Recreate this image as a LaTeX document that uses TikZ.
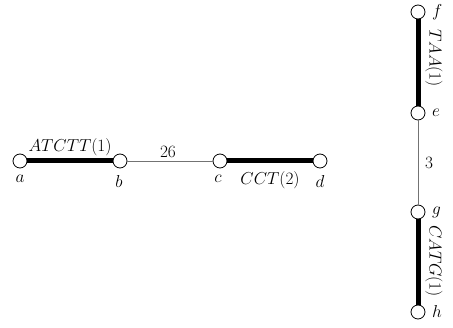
\documentclass[tikz,border=0pt]{standalone}
\begin{document}
\begin{tikzpicture}[x=1pt,y=-1pt,
  every node/.style={font=\fontsize{16}{19}\selectfont},
  vert/.style={circle,draw,thick,fill=white,minimum size=14pt,inner sep=0pt},
  heavy/.style={line width=5pt},
  light/.style={line width=0.8pt,draw=black!55},
  lbl/.style={inner sep=0pt}]
\useasboundingbox (0,0) rectangle (453,328);
% horizontal
\node[vert] (a) at (20,161) {};
\node[vert] (b) at (120,161) {};
\node[vert] (c) at (220,161) {};
\node[vert] (d) at (320,161) {};
% vertical
\node[vert] (f) at (418,12) {};
\node[vert] (e) at (418,113) {};
\node[vert] (g) at (418,212) {};
\node[vert] (h) at (418,312) {};
\draw[heavy] (a) -- (b);
\draw[light] (b) -- (c);
\draw[heavy] (c) -- (d);
\draw[heavy] (f) -- (e);
\draw[light] (e) -- (g);
\draw[heavy] (g) -- (h);
% labels
\node[lbl,anchor=north] (la) at (20,175) {$a$};
\node[lbl,anchor=north] (lb) at (119,175) {$b$};
\node[lbl,anchor=north] (lc) at (218,175) {$c$};
\node[lbl,anchor=north] (ld) at (320,175) {$d$};
\node[lbl] (lab) at (70,147) {$ATCTT(1)$};
\node[lbl] (lbc) at (168,152) {$26$};
\node[lbl] (lcd) at (270,180) {$CCT(2)$};
\node[lbl,anchor=west] (lf) at (432,12) {$f$};
\node[lbl,anchor=west] (le) at (432,113) {$e$};
\node[lbl,anchor=west] (lg) at (432,212) {$g$};
\node[lbl,anchor=west] (lh) at (432,312) {$h$};
\node[lbl,rotate=-90] (lfe) at (434,58) {$TAA(1)$};
\node[lbl] (leg) at (429,163) {$3$};
\node[lbl,rotate=-90] (lgh) at (434,261) {$CATG(1)$};
\end{tikzpicture}
\end{document}
